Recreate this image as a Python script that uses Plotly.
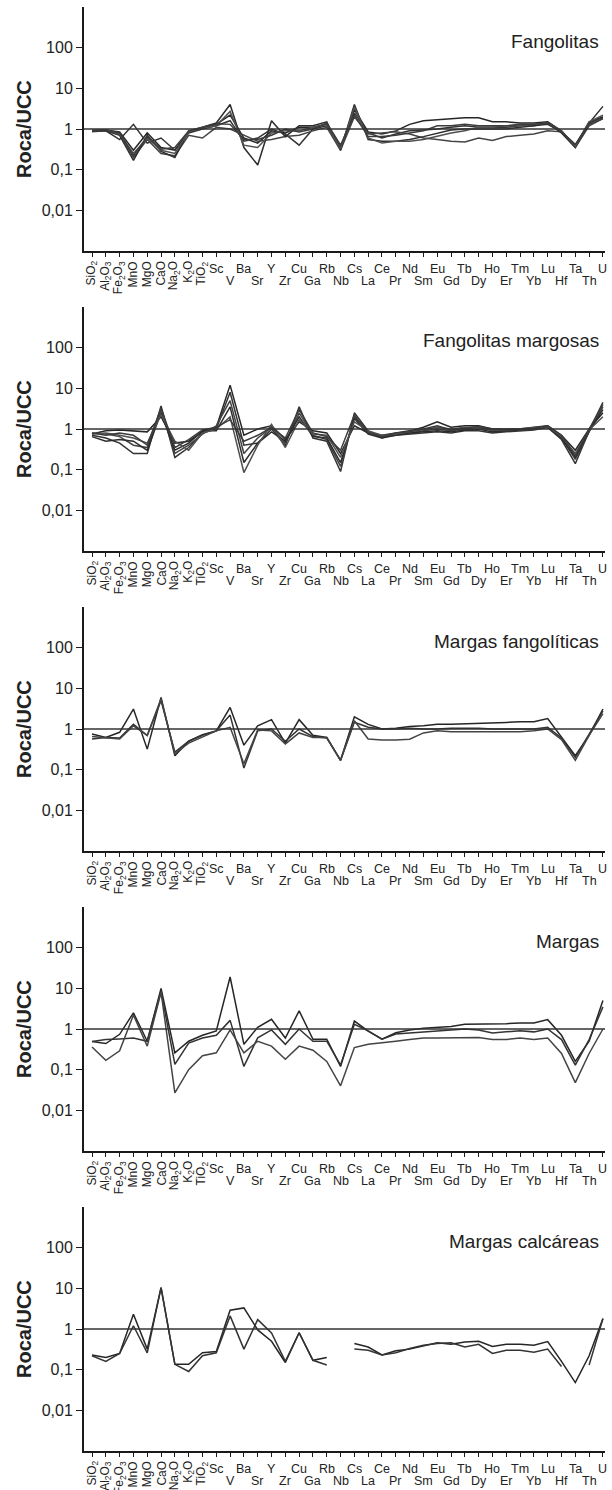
import plotly.graph_objects as go

# ---------------- data ----------------
categories = ["SiO2", "Al2O3", "Fe2O3", "MnO", "MgO", "CaO", "Na2O", "K2O", "TiO2",
              "Sc", "V", "Ba", "Sr", "Y", "Zr", "Cu", "Ga", "Rb", "Nb", "Cs",
              "La", "Ce", "Pr", "Nd", "Sm", "Eu", "Gd", "Tb", "Dy", "Ho", "Er",
              "Tm", "Yb", "Lu", "Hf", "Ta", "Th", "U"]

tick_labels = ["SiO<sub>2</sub>", "Al<sub>2</sub>O<sub>3</sub>", "Fe<sub>2</sub>O<sub>3</sub>",
               "MnO", "MgO", "CaO", "Na<sub>2</sub>O", "K<sub>2</sub>O", "TiO<sub>2</sub>",
               "Sc", "V", "Ba", "Sr", "Y", "Zr", "Cu", "Ga", "Rb", "Nb", "Cs",
               "La", "Ce", "Pr", "Nd", "Sm", "Eu", "Gd", "Tb", "Dy", "Ho", "Er",
               "Tm", "Yb", "Lu", "Hf", "Ta", "Th", "U"]

panel_titles = ["Fangolitas", "Fangolitas margosas", "Margas fangolíticas",
                "Margas", "Margas calcáreas"]

y_tick_values = [0.01, 0.1, 1, 10, 100]
y_tick_text = ["0,01", "0,1", "1", "10", "100"]

fangolitas = [
    [0.9, 0.95, 0.85, 0.3, 0.8, 0.35, 0.3, 0.85, 1.05, 1.3, 2.2, 0.6, 0.45, 0.9, 0.8, 1.1, 1.1, 1.3, 0.35, 3.0,
     0.85, 0.75, 0.9, 1.3, 1.6, 1.7, 1.8, 1.9, 1.9, 1.5, 1.5, 1.4, 1.4, 1.5, 0.9, 0.38, 1.4, 2.0],
    [0.9, 0.9, 0.55, 1.3, 0.45, 0.6, 0.3, 0.8, 1.0, 1.2, 1.6, 0.5, 0.6, 1.0, 0.75, 0.4, 1.0, 1.2, 0.35, 2.5,
     0.8, 0.6, 0.75, 0.9, 0.95, 1.0, 1.1, 1.2, 1.1, 1.1, 1.1, 1.2, 1.2, 1.3, 0.85, 0.4, 1.5, 1.9],
    [0.85, 0.9, 0.8, 0.2, 0.55, 0.25, 0.22, 0.7, 0.6, 1.1, 1.0, 0.7, 0.5, 0.55, 0.65, 0.7, 0.9, 1.1, 0.3, 2.0,
     0.75, 0.8, 0.85, 0.75, 0.6, 0.55, 0.5, 0.48, 0.6, 0.52, 0.65, 0.7, 0.75, 0.9, 0.85, 0.35, 1.2, 1.8],
    [0.9, 0.9, 0.7, 0.17, 0.7, 0.28, 0.2, 0.9, 1.1, 1.4, 4.0, 0.35, 0.13, 1.6, 0.65, 1.2, 1.2, 1.5, 0.3, 4.0,
     0.55, 0.5, 0.5, 0.55, 0.65, 0.8, 0.95, 1.0, 1.0, 1.0, 1.0, 1.1, 1.2, 1.4, 0.8, 0.35, 1.4, 3.6],
    [0.95, 0.95, 0.75, 0.25, 0.6, 0.3, 0.25, 0.85, 1.05, 1.2, 2.7, 0.4, 0.35, 0.8, 0.9, 0.9, 1.1, 1.3, 0.32, 3.5,
     0.6, 0.45, 0.5, 0.5, 0.55, 0.65, 0.8, 0.9, 1.1, 1.1, 1.2, 1.2, 1.3, 1.4, 0.9, 0.37, 1.5, 2.2],
    [0.9, 0.95, 0.8, 0.22, 0.65, 0.32, 0.35, 0.9, 1.1, 1.35, 1.3, 0.55, 0.55, 0.7, 1.0, 0.85, 1.0, 1.4, 0.4, 2.2,
     0.65, 0.65, 0.7, 0.8, 0.9, 1.2, 1.2, 1.3, 1.2, 1.2, 1.2, 1.3, 1.3, 1.4, 0.85, 0.42, 1.3, 1.8],
]

fangolitas_margosas = [
    [0.75, 0.9, 0.95, 0.9, 0.85, 2.0, 0.45, 0.5, 0.85, 1.1, 12, 0.7, 1.0, 1.2, 0.55, 1.5, 0.9, 0.8, 0.25, 1.2,
     0.8, 0.7, 0.8, 0.9, 1.1, 1.5, 1.1, 1.2, 1.2, 1.0, 1.0, 1.0, 1.1, 1.2, 0.7, 0.3, 1.0, 2.5],
    [0.7, 0.6, 0.45, 0.25, 0.25, 3.7, 0.2, 0.35, 0.8, 1.0, 8, 0.4, 0.45, 1.0, 0.4, 3.5, 0.6, 0.5, 0.09, 2.5,
     0.9, 0.65, 0.7, 0.75, 0.8, 0.85, 0.8, 0.9, 0.9, 0.8, 0.85, 0.9, 0.95, 1.1, 0.55, 0.14, 0.9, 4.5],
    [0.8, 0.75, 0.65, 0.4, 0.35, 3.0, 0.25, 0.4, 0.75, 1.2, 5, 0.25, 0.6, 1.1, 0.45, 2.5, 0.7, 0.55, 0.12, 2.0,
     0.85, 0.6, 0.75, 0.8, 0.9, 1.0, 0.9, 1.0, 1.1, 0.9, 0.9, 0.95, 1.0, 1.15, 0.6, 0.18, 0.85, 3.5],
    [0.65, 0.5, 0.55, 0.5, 0.3, 2.5, 0.3, 0.45, 0.9, 0.9, 3.5, 0.15, 0.45, 0.85, 0.5, 2.0, 0.65, 0.6, 0.15, 1.8,
     0.75, 0.6, 0.7, 0.8, 0.85, 0.9, 0.85, 0.95, 1.0, 0.85, 0.9, 0.95, 1.0, 1.1, 0.6, 0.2, 0.9, 3.0],
    [0.75, 0.8, 0.7, 0.6, 0.45, 2.3, 0.5, 0.3, 0.8, 1.0, 2.0, 0.085, 0.4, 1.3, 0.35, 1.7, 0.75, 0.7, 0.2, 1.5,
     0.9, 0.7, 0.75, 0.85, 0.95, 1.1, 1.0, 1.1, 1.1, 0.95, 0.95, 1.0, 1.05, 1.15, 0.65, 0.25, 0.95, 2.0],
    [0.8, 0.7, 0.8, 0.7, 0.4, 3.3, 0.35, 0.55, 0.95, 1.1, 1.7, 0.5, 0.7, 1.1, 0.6, 3.0, 0.8, 0.65, 0.3, 2.2,
     0.8, 0.65, 0.8, 0.85, 1.0, 1.2, 0.95, 1.05, 1.15, 1.0, 0.95, 1.0, 1.05, 1.2, 0.7, 0.22, 1.0, 4.0],
]

margas_fangoliticas = [
    [0.75, 0.62, 0.83, 3.1, 0.32, 6.0, 0.22, 0.5, 0.72, 0.9, 3.4, 0.4, 1.2, 1.7, 0.45, 1.7, 0.7, 0.62, 0.17, 2.0,
     1.3, 1.0, 1.05, 1.15, 1.2, 1.3, 1.3, 1.35, 1.35, 1.4, 1.45, 1.5, 1.5, 1.8, 0.65, 0.22, 0.7, 3.1],
    [0.57, 0.62, 0.6, 1.3, 0.69, 5.0, 0.27, 0.5, 0.7, 0.9, 2.2, 0.11, 0.9, 1.0, 0.5, 1.0, 0.65, 0.6, 0.17, 1.46,
     1.1, 1.0, 1.0, 1.05, 1.0, 1.0, 1.05, 1.05, 1.05, 1.0, 1.0, 1.0, 1.0, 1.1, 0.6, 0.2, 0.75, 2.8],
    [0.65, 0.6, 0.57, 1.2, 0.7, 5.5, 0.25, 0.45, 0.65, 0.9, 1.1, 0.14, 0.95, 0.9, 0.43, 0.8, 0.62, 0.62, 0.17, 1.6,
     0.57, 0.54, 0.54, 0.56, 0.8, 0.9, 0.85, 0.85, 0.85, 0.85, 0.85, 0.85, 0.9, 1.0, 0.55, 0.17, 0.7, 2.4],
]

margas = [
    [0.49, 0.44, 0.74, 2.5, 0.5, 10, 0.26, 0.5, 0.7, 0.9, 19, 0.42, 1.1, 1.73, 0.6, 2.8, 0.56, 0.56, 0.12, 1.57,
     0.89, 0.56, 0.81, 0.95, 1.05, 1.1, 1.15, 1.3, 1.3, 1.35, 1.35, 1.4, 1.4, 1.7, 0.7, 0.16, 0.5, 5.0],
    [0.49, 0.55, 0.57, 0.6, 0.5, 8.6, 0.135, 0.45, 0.6, 0.7, 1.63, 0.12, 0.61, 0.95, 0.42, 1.0, 0.5, 0.5, 0.13, 1.3,
     0.9, 0.56, 0.75, 0.8, 0.85, 0.9, 0.95, 1.0, 0.95, 0.8, 0.85, 0.9, 0.85, 1.0, 0.55, 0.13, 0.55, 3.5],
    [0.36, 0.17, 0.29, 2.2, 0.38, 8.0, 0.027, 0.1, 0.22, 0.26, 0.95, 0.26, 0.5, 0.38, 0.18, 0.38, 0.3, 0.16, 0.04, 0.35,
     0.42, 0.45, 0.5, 0.55, 0.6, 0.6, 0.6, 0.6, 0.62, 0.55, 0.55, 0.6, 0.55, 0.6, 0.25, 0.048, 0.25, 1.0],
]

margas_calcareas = [
    [0.23, 0.2, 0.25, 2.3, 0.32, 10.4, 0.135, 0.135, 0.26, 0.28, 2.9, 3.3, 0.95, 0.5, 0.15, 0.81, 0.17, 0.2, None, 0.44,
     0.36, 0.23, 0.29, 0.32, 0.38, 0.46, 0.42, 0.48, 0.5, 0.37, 0.42, 0.42, 0.4, 0.49, 0.16, 0.048, 0.22, 1.8],
    [0.22, 0.16, 0.25, 1.2, 0.26, 10.4, 0.135, 0.09, 0.22, 0.26, 2.1, 0.32, 1.7, 0.8, 0.16, 0.81, 0.17, 0.13, None, 0.32,
     0.3, 0.23, 0.26, 0.33, 0.4, 0.44, 0.46, 0.36, 0.42, 0.25, 0.3, 0.3, 0.27, 0.32, 0.12, None, 0.13, 1.8],
]

panels = [fangolitas, fangolitas_margosas, margas_fangoliticas, margas, margas_calcareas]
line_colors = ["#262626", "#333333", "#444444", "#2c2c2c", "#505050", "#3c3c3c"]

# ---------------- layout geometry ----------------
W, H = 612, 1490
X_LEFT, X_RIGHT = 84, 605
PANEL_TOP0, PANEL_H, PANEL_STEP = 7, 244, 300
X_RANGE = [-0.58, 37.15]
FONT = "Liberation Sans, Arial, sans-serif"
INK = "#1a1a1a"

fig = go.Figure()
layout = dict(
    width=W, height=H,
    margin=dict(l=0, r=0, t=0, b=0),
    paper_bgcolor="white", plot_bgcolor="white",
    showlegend=False,
    font=dict(family=FONT, color=INK),
)
annotations = []
shapes = []

for k, series_list in enumerate(panels):
    n = k + 1
    sfx = "" if n == 1 else str(n)
    top = PANEL_TOP0 + PANEL_STEP * k
    bottom = top + PANEL_H
    ydom = [1 - bottom / H, 1 - top / H]
    xdom = [X_LEFT / W, X_RIGHT / W]

    layout["xaxis" + sfx] = dict(
        domain=xdom, anchor="y" + sfx, type="category", range=X_RANGE,
        showgrid=False, zeroline=False, showline=True, linecolor=INK, linewidth=2,
        ticks="outside", ticklen=4, tickwidth=1.2, tickcolor=INK,
        tickvals=categories, showticklabels=False,
    )
    # overlay axis for the inner half of the crossing ticks
    ov = str(5 + n)
    layout["xaxis" + ov] = dict(
        overlaying="x" + sfx, anchor="y" + sfx, type="category", range=X_RANGE,
        showgrid=False, zeroline=False, showline=False,
        ticks="inside", ticklen=6, tickwidth=1.2, tickcolor=INK,
        tickvals=categories, showticklabels=False,
    )
    layout["yaxis" + sfx] = dict(
        domain=ydom, anchor="x" + sfx, type="log", range=[-3, 3],
        showgrid=False, zeroline=False, showline=True, linecolor=INK, linewidth=2,
        ticks="outside", ticklen=6, tickwidth=1.2, tickcolor=INK,
        tickvals=y_tick_values, ticktext=y_tick_text,
        tickfont=dict(size=16, color="#222"),
    )

    for j, vals in enumerate(series_list):
        fig.add_trace(go.Scatter(
            x=categories, y=vals, mode="lines",
            line=dict(color=line_colors[j % len(line_colors)], width=1.5),
            connectgaps=False, hoverinfo="skip",
            xaxis="x" + sfx, yaxis="y" + sfx,
        ))
    # keep overlay axis registered
    fig.add_trace(go.Scatter(x=[], y=[], xaxis="x" + ov, yaxis="y" + sfx, hoverinfo="skip"))

    # reference line at Roca/UCC = 1 (middle of the log range)
    shapes.append(dict(type="line", xref="x" + sfx + " domain", yref="y" + sfx + " domain",
                       x0=0, x1=1, y0=0.5, y1=0.5, line=dict(color="#333", width=1.5)))

    # panel title
    annotations.append(dict(text=panel_titles[k], xref="x" + sfx + " domain", yref="y" + sfx + " domain",
                            x=0.992, y=1 - 34 / PANEL_H, xanchor="right", yanchor="middle",
                            showarrow=False, font=dict(size=19, color="#222")))
    # y-axis title
    annotations.append(dict(text="<b>Roca/UCC</b>", xref="paper", yref="y" + sfx + " domain",
                            x=24 / W, y=0.5, xanchor="center", yanchor="middle", textangle=-90,
                            showarrow=False, font=dict(size=20, color="#222")))
    # x tick labels
    for i, lab in enumerate(tick_labels):
        if i < 9:
            annotations.append(dict(text=lab, xref="x" + sfx, yref="y" + sfx + " domain",
                                    x=i, y=0, yshift=-8, xanchor="center", yanchor="top",
                                    textangle=-90, showarrow=False,
                                    font=dict(size=12, color="#222")))
        else:
            shift = -18 if i % 2 == 1 else -30
            annotations.append(dict(text=lab, xref="x" + sfx, yref="y" + sfx + " domain",
                                    x=i, y=0, yshift=shift, xanchor="center", yanchor="middle",
                                    showarrow=False, font=dict(size=12.5, color="#222")))

layout["annotations"] = annotations
layout["shapes"] = shapes
fig.update_layout(**layout)
fig.write_html("out.html", config={"displayModeBar": False},
               post_script="document.body.style.margin='0';document.body.style.padding='0';")
